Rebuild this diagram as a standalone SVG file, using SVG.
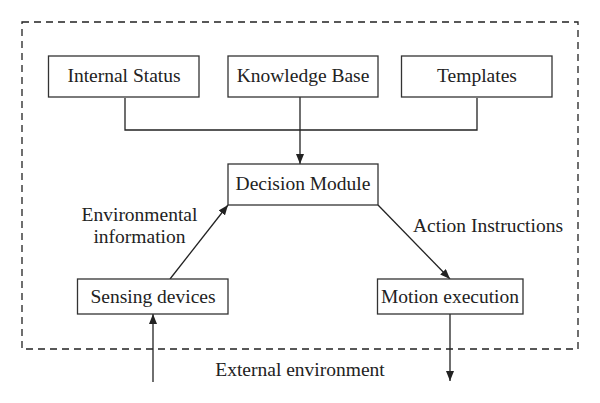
<svg xmlns="http://www.w3.org/2000/svg" width="600" height="403" viewBox="0 0 600 403">
<style>
.box{fill:#fff;stroke:#333;stroke-width:1.3}
.ln{fill:none;stroke:#222;stroke-width:1.3}
text{font-family:"Liberation Serif","Times New Roman",serif;font-size:19.5px;fill:#222;text-anchor:middle}
</style>
<defs>
<marker id="ah" viewBox="0 0 10 8" refX="10" refY="4" markerWidth="10" markerHeight="8" markerUnits="userSpaceOnUse" orient="auto">
<path d="M0,0 L10,4 L0,8 Z" fill="#222"/>
</marker>
</defs>
<rect x="0" y="0" width="600" height="403" fill="#fff"/>
<rect x="22" y="22" width="556" height="327" fill="none" stroke="#222" stroke-width="1.3" stroke-dasharray="7,5"/>
<g id="connectors">
<polyline class="ln" points="125,98 125,130 477,130 477,98"/>
<line class="ln" x1="300" y1="97" x2="300" y2="164" marker-end="url(#ah)"/>
<line class="ln" x1="170" y1="279" x2="228" y2="205" marker-end="url(#ah)"/>
<line class="ln" x1="378" y1="205" x2="450" y2="279" marker-end="url(#ah)"/>
<line class="ln" x1="153" y1="382" x2="153" y2="314" marker-end="url(#ah)"/>
<line class="ln" x1="450" y1="314" x2="450" y2="381" marker-end="url(#ah)"/>
</g>
<g id="internal-status"><rect class="box" x="48.5" y="56" width="150.5" height="41"/><text x="124" y="82">Internal Status</text></g>
<g id="knowledge-base"><rect class="box" x="228" y="56" width="150" height="41"/><text x="303" y="82">Knowledge Base</text></g>
<g id="templates"><rect class="box" x="401.5" y="56" width="150.5" height="41"/><text x="477" y="82">Templates</text></g>
<g id="decision-module"><rect class="box" x="228" y="164" width="150" height="41"/><text x="303" y="190">Decision Module</text></g>
<g id="sensing-devices"><rect class="box" x="77.5" y="279" width="150.5" height="35"/><text x="153" y="303">Sensing devices</text></g>
<g id="motion-execution"><rect class="box" x="377.5" y="279" width="145.5" height="35"/><text x="450" y="303">Motion execution</text></g>
<g id="labels">
<text x="139.5" y="221">Environmental</text>
<text x="139.5" y="243">information</text>
<text x="488" y="232">Action Instructions</text>
<text x="300" y="376">External environment</text>
</g>
</svg>
